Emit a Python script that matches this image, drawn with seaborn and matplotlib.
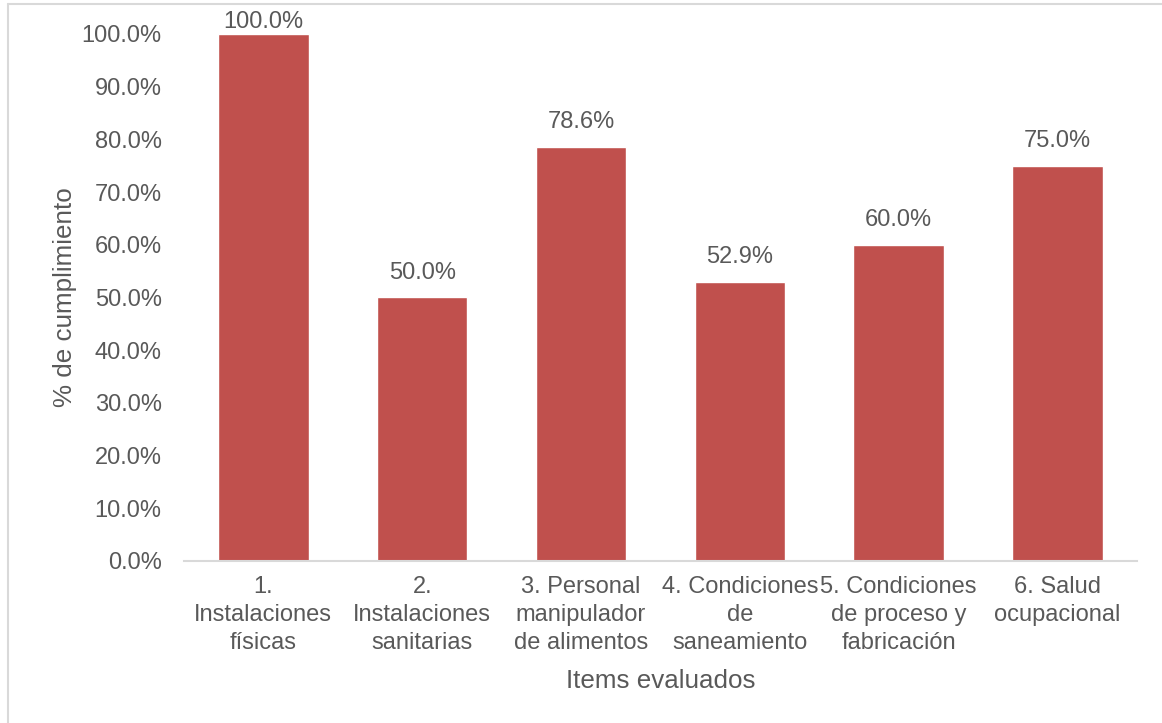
import matplotlib
matplotlib.use("Agg")
import matplotlib.pyplot as plt
import seaborn as sns
import pandas as pd
from matplotlib.lines import Line2D

categories = [
    "1.\nInstalaciones\nfísicas",
    "2.\nInstalaciones\nsanitarias",
    "3. Personal\nmanipulador\nde alimentos",
    "4. Condiciones\nde\nsaneamiento",
    "5. Condiciones\nde proceso y\nfabricación",
    "6. Salud\nocupacional",
]
values = [1.000, 0.500, 0.786, 0.529, 0.600, 0.750]
y_ticks = [0.0, 0.1, 0.2, 0.3, 0.4, 0.5, 0.6, 0.7, 0.8, 0.9, 1.0]

df = pd.DataFrame({"item": categories, "pct": values})

sns.set_theme(style="white")
plt.rcParams["font.family"] = ["Liberation Sans", "DejaVu Sans"]

text_color = "#595959"
bar_color = "#C0504D"
fs = 17
fs_title = 18.7

fig = plt.figure(figsize=(11.62, 7.23), dpi=100)
ax = fig.add_axes([0.1583, 0.2241, 0.8202, 0.7289])

sns.barplot(data=df, x="item", y="pct", color=bar_color, saturation=1,
            width=0.57, ax=ax)

ax.set_ylim(0, 1.0)
ax.set_xlim(-0.5, len(categories) - 0.5)
ax.set_yticks(y_ticks)
ax.set_yticklabels([f"{t * 100:.1f}%" for t in y_ticks])

for sp in ["top", "right", "left"]:
    ax.spines[sp].set_visible(False)
ax.spines["bottom"].set_color("#D9D9D9")
ax.spines["bottom"].set_linewidth(1.5)

ax.tick_params(axis="y", length=0, pad=16, labelsize=fs, labelcolor=text_color)
ax.tick_params(axis="x", length=0, pad=11, labelsize=fs, labelcolor=text_color)
for lab in ax.get_xticklabels():
    lab.set_linespacing(1.35)

ax.set_xlabel("Items evaluados", fontsize=fs_title, color=text_color, labelpad=11)
ax.set_ylabel("% de cumplimiento", fontsize=fs_title, color=text_color, labelpad=3)

# value labels above each bar, kept inside the top of the plot area
for i, v in enumerate(values):
    y = min(v + 0.047, 1.023)
    ax.text(i, y, f"{v * 100:.1f}%", ha="center", va="center",
            fontsize=fs, color=text_color, clip_on=False)

# chart area border
fig.add_artist(Line2D([0.0071, 0.0071], [0.0, 0.9945], transform=fig.transFigure,
                      color="#D9D9D9", linewidth=1.5))
fig.add_artist(Line2D([0.0071, 1.0], [0.9945, 0.9945], transform=fig.transFigure,
                      color="#D9D9D9", linewidth=1.5))

fig.savefig("out.png", dpi=100, facecolor="white")
